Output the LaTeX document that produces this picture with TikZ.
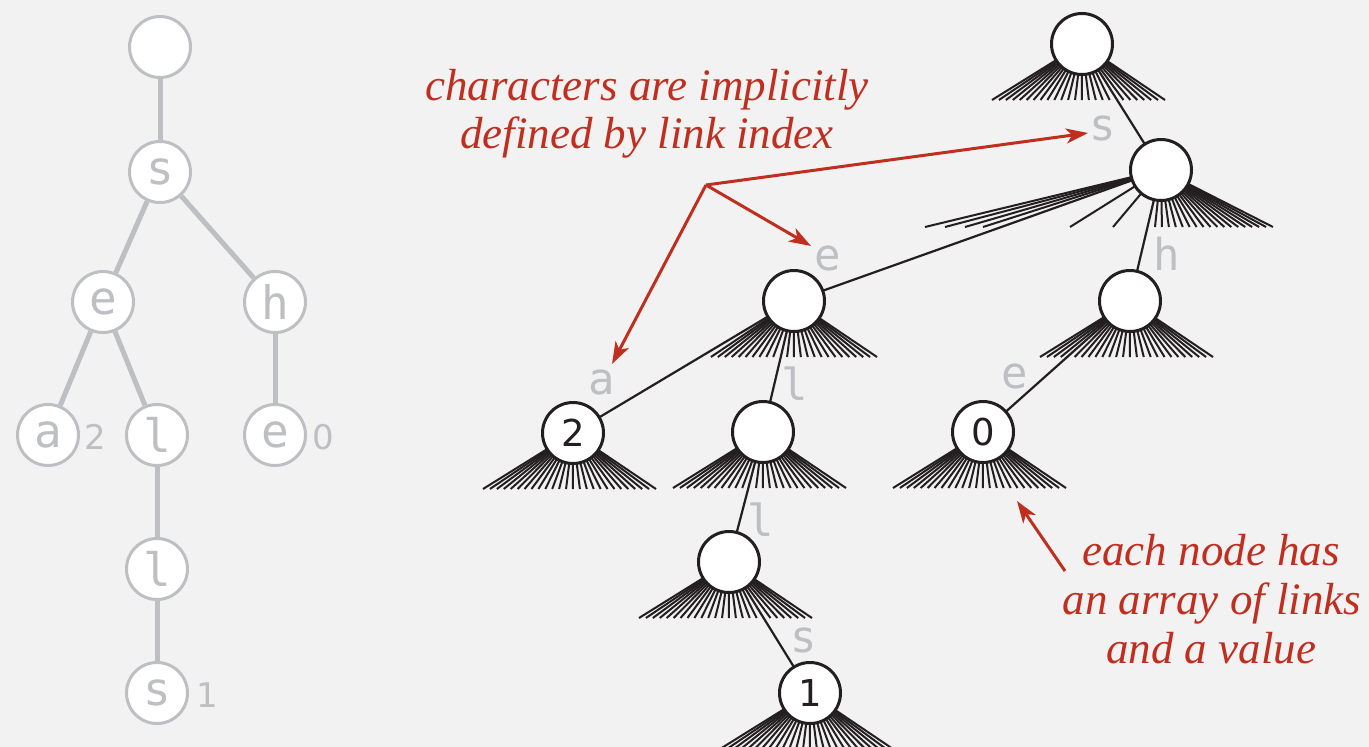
\documentclass[tikz,border=0pt]{standalone}
\usepackage{fontspec}
\setmainfont{Liberation Serif}
\newfontfamily\monofont{DejaVu Sans Mono}
\newfontfamily\digitfont{DejaVu Sans}
\usetikzlibrary{arrows.meta}
\pgfdeclarelayer{background}
\pgfsetlayers{background,main}
\definecolor{bg}{RGB}{242,242,242}
\definecolor{lgray}{RGB}{190,191,194}
\definecolor{ink}{RGB}{35,31,32}
\definecolor{redc}{RGB}{192,46,32}
\newcommand\fanat[3]{%
  \foreach \i in {0,...,25}{%
    \ifnum\i=#2\relax\else\ifnum\i=#3\relax\else
      \draw[fanline] (#1.center) -- +({-90+6.92*\i},56);
    \fi\fi}}
\begin{document}
\begin{tikzpicture}[x=1pt,y=-1pt,
  trie/.style={circle, draw=ink, fill=white, line width=3pt, minimum size=61pt, inner sep=0pt, text=ink, font=\digitfont\fontsize{37}{37}\selectfont},
  fanline/.style={draw=ink, line width=2pt},
  link/.style={draw=ink, line width=2.2pt},
  lbl/.style={anchor=base, text=lgray, inner sep=0pt, font=\monofont\fontsize{44}{44}\selectfont},
  gnode/.style={circle, draw=lgray, fill=white, line width=3pt, minimum size=61pt, inner sep=0pt, text=lgray, font=\monofont\fontsize{46}{46}\selectfont},
  gedge/.style={draw=lgray, line width=5pt},
  gval/.style={anchor=base, text=lgray, inner sep=0pt, font=\digitfont\fontsize{34}{34}\selectfont},
  note/.style={anchor=base, text=redc, inner sep=0pt, font=\itshape\fontsize{45}{48}\selectfont},
  redarrow/.style={draw=redc, line width=3pt, -{Stealth[length=22pt,width=15pt,inset=6pt]}},
]
\useasboundingbox (0,0) rectangle (1369,747);
\begin{pgfonlayer}{background}
  \fill[bg] (0,0) rectangle (1369,747);
\end{pgfonlayer}

% ---- left trie (gray) ----
\node[gnode] (g0)  at (160,47)  {};
\node[gnode] (gs)  at (160,172) {s};
\node[gnode] (ge)  at (103,302) {e};
\node[gnode] (gh)  at (275,302) {h};
\node[gnode] (ga)  at (48,435)  {a};
\node[gnode] (gl)  at (157,435) {l};
\node[gnode] (ge2) at (275,435) {e};
\node[gnode] (gl2) at (157,569) {l};
\node[gnode] (gs2) at (157,693) {s};
\node[gval] (v2) at (95,449) {2};
\node[gval] (v0) at (323,449) {0};
\node[gval] (v1) at (207,707) {1};

% ---- right trie ----
\node[trie] (R)  at (1082,44)  {};
\node[trie] (S)  at (1161,170) {};
\node[trie] (E)  at (794,301)  {};
\node[trie] (H)  at (1130,301) {};
\node[trie] (A2) at (573,433)  {2};
\node[trie] (L1) at (763,432)  {};
\node[trie] (N0) at (983,432)  {0};
\node[trie] (L2) at (729,562)  {};
\node[trie] (N1) at (810,693)  {1};

\node[lbl] (ls)  at (1103,140) {s};
\node[lbl] (le)  at (828,270)  {e};
\node[lbl] (lh)  at (1167,270) {h};
\node[lbl] (la)  at (602,394)  {a};
\node[lbl] (ll1) at (795,400)  {l};
\node[lbl] (ll2) at (761,536)  {l};
\node[lbl] (ls2) at (804,652)  {s};
\node[lbl] (le2) at (1015,388) {e};

\begin{pgfonlayer}{background}
  \draw[gedge] (g0) -- (gs);
  \draw[gedge] (gs) -- (ge);
  \draw[gedge] (gs) -- (gh);
  \draw[gedge] (ge) -- (ga);
  \draw[gedge] (ge) -- (gl);
  \draw[gedge] (gh) -- (ge2);
  \draw[gedge] (gl) -- (gl2);
  \draw[gedge] (gl2) -- (gs2);

  \fanat{R}{18}{-1}
  \fanat{E}{0}{11}
  \fanat{H}{4}{-1}
  \fanat{A2}{-1}{-1}
  \fanat{L1}{11}{-1}
  \fanat{L2}{18}{-1}
  \fanat{N0}{-1}{-1}
  \fanat{N1}{-1}{-1}
  \foreach \dx in {-236,-216,-196,-178,-91,-48}{\draw[fanline] (S.center) -- +(\dx,57);}
  \foreach \k in {0,...,17}{\draw[fanline] (S.center) -- +({-6+6.94*\k},57);}

  \draw[link] (R.center) -- (S.center);
  \draw[link] (S.center) -- (E.center);
  \draw[link] (S.center) -- (H.center);
  \draw[link] (E.center) -- (A2.center);
  \draw[link] (E.center) -- (L1.center);
  \draw[link] (H.center) -- (N0.center);
  \draw[link] (L1.center) -- (L2.center);
  \draw[link] (L2.center) -- (N1.center);
\end{pgfonlayer}

% ---- annotations ----
\node[note] (n1a) at (647,100) {characters are implicitly};
\node[note] (n1b) at (647,148) {defined by link index};
\node[note] (n2a) at (1211,565) {each node has};
\node[note] (n2b) at (1212,614) {an array of links};
\node[note] (n2c) at (1211,663) {and a value};

\coordinate (J)  at (706,185);
\coordinate (tS) at (1088,133);
\coordinate (tE) at (811,246);
\coordinate (tA) at (612,364);
\coordinate (p4) at (1065,571);
\coordinate (t4) at (1017,501);
\draw[redarrow] (J) -- (tS);
\draw[redarrow] (J) -- (tE);
\draw[redarrow] (J) -- (tA);
\draw[redarrow] (p4) -- (t4);
\end{tikzpicture}
\end{document}
